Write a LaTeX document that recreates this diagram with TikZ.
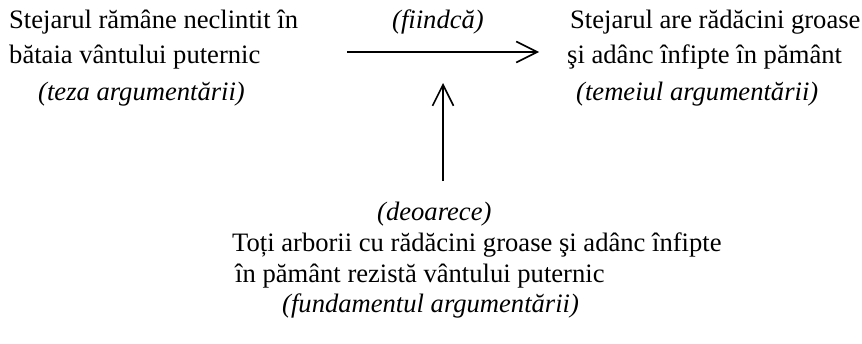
\documentclass[tikz,border=0pt]{standalone}
\usepackage{fontspec}
\setmainfont{Liberation Serif}[ItalicFont=Liberation Serif Italic,BoldFont=Liberation Serif Bold]
\usetikzlibrary{arrows.meta}
\begin{document}
\begin{tikzpicture}[x=1pt,y=-1pt,
  txt/.style={inner sep=0pt,anchor=base west,font=\fontsize{26.6}{30}\selectfont},
  itx/.style={txt,font=\fontsize{26.6}{30}\selectfont\itshape},
  arr/.style={line width=1.6pt,-{Straight Barb[length=21pt,width=21pt,line width=1.6pt]}}]
\useasboundingbox (0,0) rectangle (862,343);
\node[txt] (t1) at (9,28) {Stejarul rămâne neclintit în};
\node[txt] (t2) at (9,63) {bătaia vântului puternic};
\node[itx] (t3) at (38,100) {(teza argumentării)};
\node[itx] (f) at (392,28) {(fiindcă)};
\node[txt] (r1) at (570,28) {Stejarul are rădăcini groase};
\node[txt] (r2) at (567,63) {şi adânc înfipte în pământ};
\node[itx] (r3) at (576,100) {(temeiul argumentării)};
\node[itx] (d) at (377,220) {(deoarece)};
\node[txt] (b1) at (232,251) {Toți arborii cu rădăcini groase şi adânc înfipte};
\node[txt] (b2) at (235,282) {în pământ rezistă vântului puternic};
\node[itx] (b3) at (282,312) {(fundamentul argumentării)};
\coordinate (hs) at (347,52);
\coordinate (he) at (539,52);
\coordinate (vs) at (443,181);
\coordinate (ve) at (443,83);
\draw[arr] (hs) -- (he);
\draw[arr] (vs) -- (ve);
\end{tikzpicture}
\end{document}
